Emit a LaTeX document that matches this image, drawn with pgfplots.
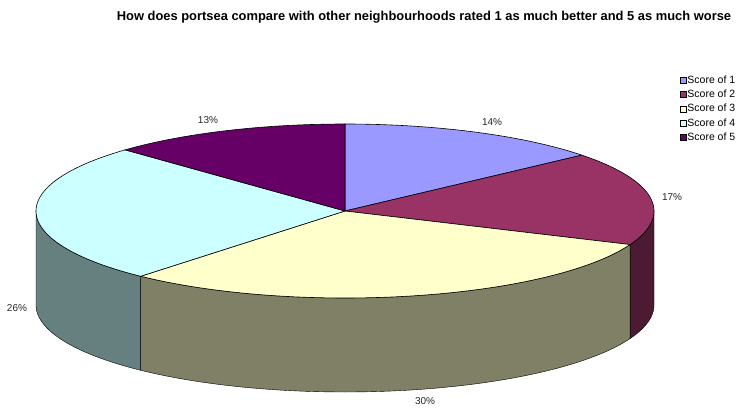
\documentclass[border=0pt]{standalone}
\usepackage{fontspec}
\setmainfont{Liberation Sans}
\usepackage{pgfplots}
\pgfplotsset{compat=1.18}
\usepgfplotslibrary{fillbetween}
\definecolor{cA}{HTML}{9999FF}
\definecolor{cB}{HTML}{993366}
\definecolor{cC}{HTML}{FFFFCC}
\definecolor{cD}{HTML}{CCFFFF}
\definecolor{cE}{HTML}{660066}
\definecolor{wB}{HTML}{4D1A33}
\definecolor{wC}{HTML}{808066}
\definecolor{wD}{HTML}{668080}
\begin{document}
\begin{tikzpicture}
% shares of the five scores (percent)
\def\pA{13.9}\def\pB{17.4}\def\pC{30.2}\def\pD{25.9}\def\pE{12.6}
\pgfmathsetmacro\aA{90}
\pgfmathsetmacro\aB{\aA-3.6*\pA}
\pgfmathsetmacro\aC{\aB-3.6*\pB}
\pgfmathsetmacro\aD{\aC-3.6*\pC}
\pgfmathsetmacro\aE{\aD-3.6*\pD}
\pgfmathsetmacro\aF{\aE-3.6*\pE}
\pgfmathsetmacro\xC{345+309*cos(\aC)}
\pgfmathsetmacro\xD{345+309*cos(\aD)}
\begin{axis}[scale only axis, width=743pt, height=407pt,
  xmin=0, xmax=743, ymin=0, ymax=407, hide axis, clip=false,
  legend cell align=left,
  legend style={at={(axis cs:680,332.5)}, anchor=north west, draw=none, fill=none,
    inner xsep=0pt, inner ysep=0pt, row sep=3.7pt,
    font=\fontsize{10.5}{12}\selectfont, nodes={inner sep=0.8pt}},
  legend image code/.code={\draw[#1,draw=black,line width=0.4pt] (0pt,-3pt) rectangle (6pt,3pt);},
  every axis plot/.append style={line width=0.6pt}]
\path (axis cs:0,0) rectangle (axis cs:743,407);
% side walls
\addplot[name path=wtop, draw=none, domain=-180:0, samples=181, forget plot] ({345+309*cos(x)},{196+87*sin(x)});
\addplot[name path=wbot, draw=none, domain=-180:0, samples=181, forget plot] ({345+309*cos(x)},{102+87*sin(x)});
\addplot[fill=wB, draw=black, forget plot] fill between[of=wtop and wbot, soft clip={domain=\xC:654}];
\addplot[fill=wC, draw=black, forget plot] fill between[of=wtop and wbot, soft clip={domain=\xD:\xC}];
\addplot[fill=wD, draw=black, forget plot] fill between[of=wtop and wbot, soft clip={domain=36:\xD}];
% top slices
\addplot[fill=cA, draw=black, domain=\aB:\aA, samples=60, forget plot] ({345+309*cos(x)},{196+87*sin(x)}) -- (axis cs:345,196) -- cycle;
\addplot[fill=cB, draw=black, domain=\aC:\aB, samples=60, forget plot] ({345+309*cos(x)},{196+87*sin(x)}) -- (axis cs:345,196) -- cycle;
\addplot[fill=cC, draw=black, domain=\aD:\aC, samples=90, forget plot] ({345+309*cos(x)},{196+87*sin(x)}) -- (axis cs:345,196) -- cycle;
\addplot[fill=cD, draw=black, domain=\aE:\aD, samples=90, forget plot] ({345+309*cos(x)},{196+87*sin(x)}) -- (axis cs:345,196) -- cycle;
\addplot[fill=cE, draw=black, domain=\aF:\aE, samples=60, forget plot] ({345+309*cos(x)},{196+87*sin(x)}) -- (axis cs:345,196) -- cycle;
% legend
\addlegendimage{fill=cA}\addlegendentry{Score of 1}
\addlegendimage{fill=cB}\addlegendentry{Score of 2}
\addlegendimage{fill=cC}\addlegendentry{Score of 3}
\addlegendimage{fill=cD}\addlegendentry{Score of 4}
\addlegendimage{fill=cE}\addlegendentry{Score of 5}
% labels
\begin{scope}[every node/.style={font=\fontsize{10}{12}\selectfont, text=black!85}]
\node at (axis cs:492,285) {14\%};
\node at (axis cs:672,210) {17\%};
\node at (axis cs:425,6) {30\%};
\node at (axis cs:17,99) {26\%};
\node at (axis cs:208,287) {13\%};
\end{scope}
\node[font=\bfseries\fontsize{12.9}{15}\selectfont, anchor=base] at (axis cs:424,386) {How does portsea compare with other neighbourhoods rated 1 as much better and 5 as much worse};
\end{axis}
\end{tikzpicture}
\end{document}
